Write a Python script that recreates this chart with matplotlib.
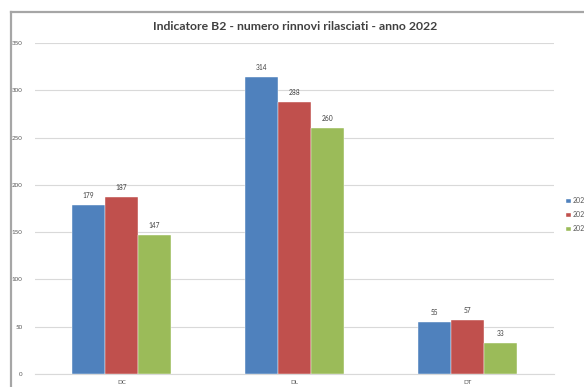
import matplotlib.pyplot as plt
import numpy as np
from matplotlib.lines import Line2D

plt.rcParams['font.family'] = ['Lato', 'DejaVu Sans']

# categories and yearly series
categories = ["DC", "DL", "DT"]
years = ["2022", "2021", "2020"]
v2022 = [179, 314, 55]
v2021 = [187, 288, 57]
v2020 = [147, 260, 33]
colors = ["#4F81BD", "#C0504D", "#9BBB59"]

W, H = 584, 387
fig = plt.figure(figsize=(W / 100, H / 100), dpi=100)
ax = fig.add_axes([35 / W, 13 / H, 519 / W, 331 / H])

x = np.arange(len(categories))
bw = 0.19
series = [v2022, v2021, v2020]
for i, (vals, c, lab) in enumerate(zip(series, colors, years)):
    bars = ax.bar(x + (i - 1) * bw, vals, bw, color=c, label=lab,
                  edgecolor="white", linewidth=0.3, zorder=3)
    for b, v in zip(bars, vals):
        ax.text(b.get_x() + b.get_width() / 2, v + 6, str(v),
                ha="center", va="bottom", fontsize=4.8, color="#404040")

ax.set_xlim(-0.5, 2.5)
ax.set_ylim(0, 350)
ax.set_yticks(range(0, 351, 50))
ax.set_xticks(x)
ax.set_xticklabels(categories)
ax.tick_params(axis="both", length=0, labelsize=4.5, labelcolor="#595959")
ax.tick_params(axis="y", pad=9)
ax.tick_params(axis="x", pad=4)
ax.grid(axis="y", color="#d9d9d9", linewidth=0.8, zorder=0)
for s in ["top", "right", "left"]:
    ax.spines[s].set_visible(False)
ax.spines["bottom"].set_color("#d9d9d9")
ax.spines["bottom"].set_linewidth(0.8)

fig.text(295 / W, 1 - 27 / H, "Indicatore B2 - numero rinnovi rilasciati - anno 2022",
         ha="center", va="center", fontsize=8.8, fontweight="bold", color="#404040")

# legend sits at the right edge of the chart area
fig.legend(loc="upper left", bbox_to_anchor=(563 / W, 1 - 194 / H),
           frameon=False, fontsize=5, handlelength=0.6, handleheight=0.6,
           handletextpad=0.3, labelspacing=1.0, borderpad=0, labelcolor="#595959")

# chart area frame (left and top edges)
fig.add_artist(Line2D([11 / W, 11 / W], [0, 1 - 12 / H], transform=fig.transFigure,
                      color="#a6a6a6", linewidth=1.6))
fig.add_artist(Line2D([11 / W, 1], [1 - 12 / H, 1 - 12 / H], transform=fig.transFigure,
                      color="#a6a6a6", linewidth=1.6))

fig.savefig("out.png", dpi=100)
